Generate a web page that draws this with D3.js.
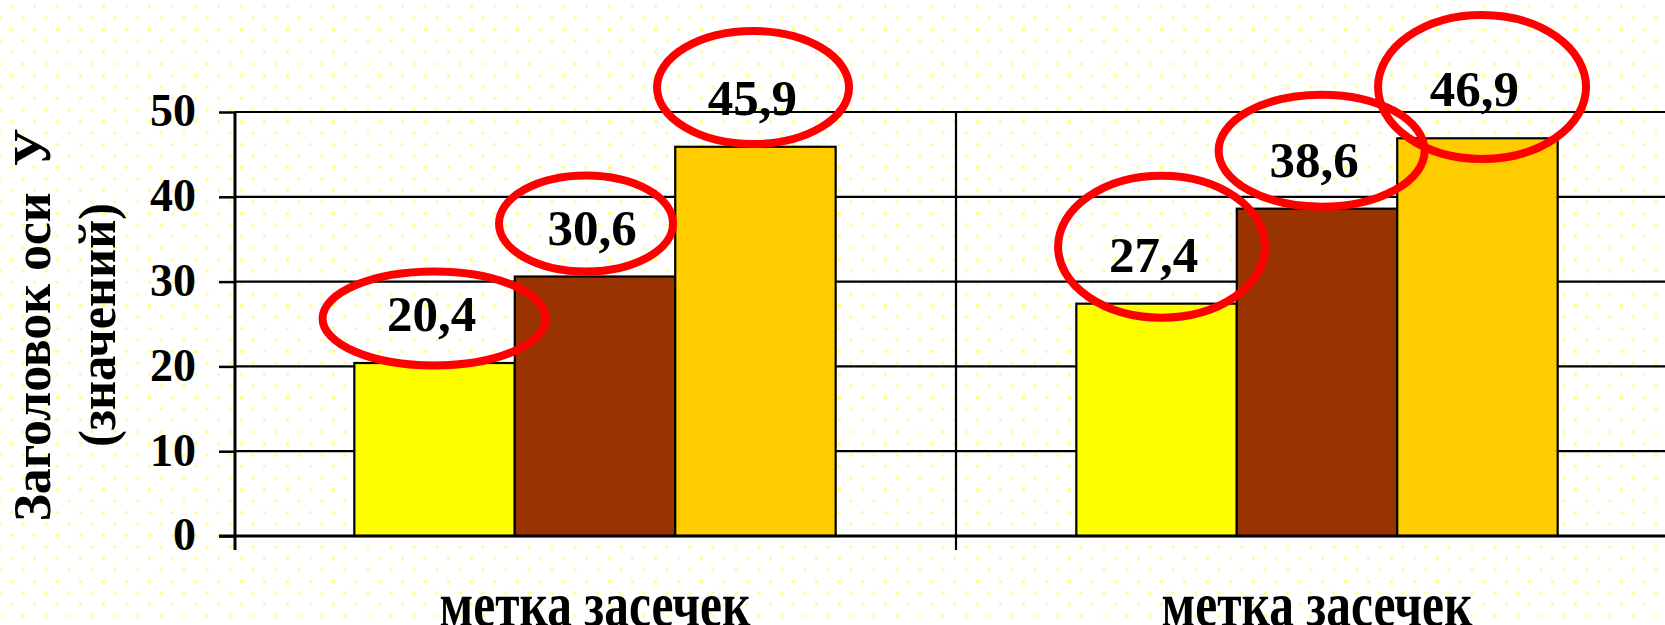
<!DOCTYPE html>
<html>
<head>
<meta charset="utf-8">
<script src="https://cdn.jsdelivr.net/npm/d3@7"></script>
<style>
  html, body { margin: 0; padding: 0; background: #fff; }
  svg { display: block; }
  text { font-family: "Liberation Serif", "Times New Roman", serif; font-weight: bold; fill: #000; }
</style>
</head>
<body>
<svg id="chart" width="1665" height="625"></svg>
<script>
// ---- data ----
const categories = ["метка засечек", "метка засечек"];
const seriesNames = ["Ряд 1", "Ряд 2", "Ряд 3"];
const series1 = [20.4, 27.4];
const series2 = [30.6, 38.6];
const series3 = [45.9, 46.9];
const yTicks = [0, 10, 20, 30, 40, 50];
const yTitleLines = ["Заголовок оси  У", "(значений)"];

// ---- styles / layout ----
const seriesColors = ["#FFFF00", "#993300", "#FFCC00"];
const W = 1665, H = 625;
const plotLeft = 235, plotTop = 112, plotBottom = 536;
const bandWidth = 722;
// annotation ovals around the data labels: [dx, dy, rx, ry] relative to bar centre / bar top
const ovals = [
  [[-0.5, -44.5, 111.5, 47], [-9, -53, 87, 48], [-2.4, -59.3, 96, 56.5]],
  [[5, -57, 103.5, 71], [4.6, -58, 103, 56], [4.6, -51.3, 104, 72]]
];

const values = [series1, series2, series3];
const svg = d3.select("#chart");

// background with dotted pattern
const defs = svg.append("defs");
const pat = defs.append("pattern").attr("id", "dots")
  .attr("patternUnits", "userSpaceOnUse").attr("width", 23).attr("height", 23);
[[10, 5], [21.5, 16.5], [-1.5, 16.5]].forEach(([x, y]) =>
  pat.append("rect").attr("x", x).attr("y", y).attr("width", 3).attr("height", 3).attr("fill", "#FFFF8C"));
svg.append("rect").attr("width", W).attr("height", H).attr("fill", "#fff");
svg.append("rect").attr("width", W).attr("height", H).attr("fill", "url(#dots)");

// scales
const x0 = d3.scaleBand().domain(d3.range(categories.length))
  .range([plotLeft - 1, plotLeft - 1 + bandWidth * categories.length]).padding(0);
const x1 = d3.scaleBand().domain(d3.range(seriesNames.length))
  .range([0, x0.bandwidth()]).paddingInner(0).paddingOuter(0.75);
const y = d3.scaleLinear().domain([0, 50]).range([plotBottom, plotTop]);

// horizontal gridlines
svg.append("g").selectAll("line").data(yTicks.filter(t => t > 0)).join("line")
  .attr("x1", plotLeft).attr("x2", W).attr("y1", d => y(d)).attr("y2", d => y(d))
  .attr("stroke", "#000").attr("stroke-width", 2.2);

// vertical category gridlines (between categories)
const boundaries = d3.range(1, categories.length).map(i => x0(i));
svg.append("g").selectAll("line").data(boundaries).join("line")
  .attr("x1", d => d).attr("x2", d => d).attr("y1", y(50)).attr("y2", plotBottom + 14)
  .attr("stroke", "#000").attr("stroke-width", 2.2);

// y axis with ticks and labels
const yAxis = d3.axisLeft(y).tickValues(yTicks).tickSize(16).tickSizeOuter(0).tickPadding(23)
  .tickFormat(d => String(d));
const gy = svg.append("g").attr("transform", `translate(${plotLeft},0)`).call(yAxis);
gy.select(".domain").remove();
gy.selectAll(".tick line").attr("stroke", "#000").attr("stroke-width", 2.5);
gy.selectAll(".tick text").attr("font-size", 46).attr("dy", "0.3em")
  .style("font-family", '"Liberation Serif", "Times New Roman", serif').style("font-weight", "bold");

// bars
const gBars = svg.append("g");
categories.forEach((c, ci) => {
  seriesNames.forEach((s, si) => {
    const v = values[si][ci];
    gBars.append("rect")
      .attr("x", x0(ci) + x1(si)).attr("y", y(v))
      .attr("width", x1.bandwidth()).attr("height", y(0) - y(v))
      .attr("fill", seriesColors[si]).attr("stroke", "#000").attr("stroke-width", 2.2);
  });
});

// axis lines
svg.append("line").attr("x1", plotLeft - 16).attr("x2", W).attr("y1", y(0)).attr("y2", y(0))
  .attr("stroke", "#000").attr("stroke-width", 3);
svg.append("line").attr("x1", plotLeft).attr("x2", plotLeft).attr("y1", y(50)).attr("y2", plotBottom + 14)
  .attr("stroke", "#000").attr("stroke-width", 3);

// data labels
const gLab = svg.append("g");
categories.forEach((c, ci) => {
  seriesNames.forEach((s, si) => {
    const v = values[si][ci];
    gLab.append("text")
      .attr("x", x0(ci) + x1(si) + x1.bandwidth() / 2 - 3)
      .attr("y", y(v) - 32)
      .attr("text-anchor", "middle").attr("font-size", 51)
      .text(v.toFixed(1).replace(".", ","));
  });
});

// red annotation ovals
const gOv = svg.append("g");
categories.forEach((c, ci) => {
  seriesNames.forEach((s, si) => {
    const v = values[si][ci];
    const [dx, dy, rx, ry] = ovals[ci][si];
    gOv.append("ellipse")
      .attr("cx", x0(ci) + x1(si) + x1.bandwidth() / 2 + dx)
      .attr("cy", y(v) + dy)
      .attr("rx", rx).attr("ry", ry)
      .attr("fill", "none").attr("stroke", "#FF0000").attr("stroke-width", 8);
  });
});

// category labels
svg.append("g").selectAll("text").data(categories).join("text")
  .attr("x", (d, i) => x0(i) + x0.bandwidth() / 2)
  .attr("y", 626)
  .attr("text-anchor", "middle").attr("font-size", 64)
  .attr("textLength", 311).attr("lengthAdjust", "spacingAndGlyphs")
  .text(d => d);

// y axis title (two lines, rotated)
const titleCfg = [{ x: 50, len: 393 }, { x: 115, len: 244 }];
yTitleLines.forEach((t, i) => {
  svg.append("text")
    .attr("transform", `translate(${titleCfg[i].x},325) rotate(-90)`)
    .attr("text-anchor", "middle").attr("font-size", 52)
    .attr("xml:space", "preserve").style("white-space", "pre")
    .attr("textLength", titleCfg[i].len).attr("lengthAdjust", "spacingAndGlyphs")
    .text(t);
});
</script>
</body>
</html>
